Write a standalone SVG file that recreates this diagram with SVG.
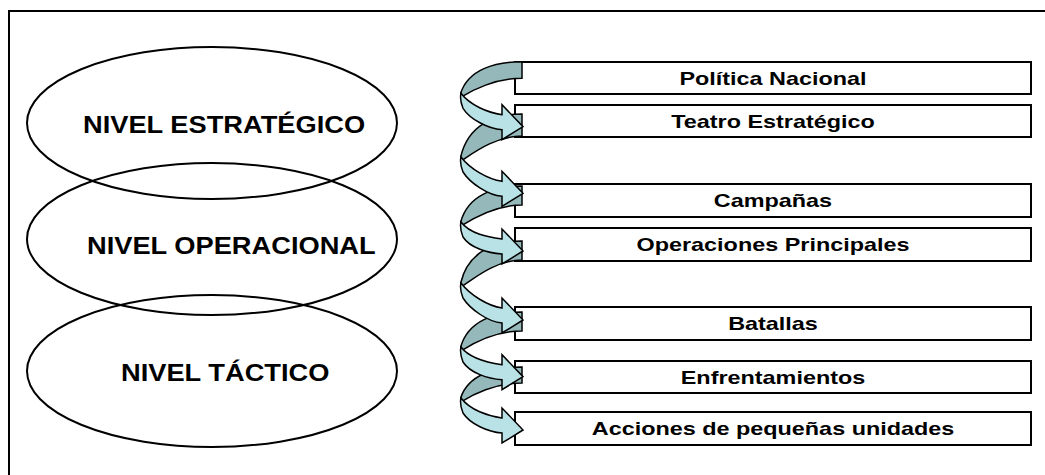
<svg xmlns="http://www.w3.org/2000/svg" width="1045" height="475" viewBox="0 0 1045 475">
<style>
.frame{fill:none;stroke:#000;stroke-width:2}
.ell{fill:none;stroke:#000;stroke-width:2}
.box{fill:#fff;stroke:#000;stroke-width:2}
.lvl{font-family:"Liberation Sans",Arial,sans-serif;font-weight:bold;font-size:23.5px;fill:#000;text-anchor:start}
.lbl{font-family:"Liberation Sans",Arial,sans-serif;font-weight:bold;font-size:18px;fill:#000;text-anchor:middle}
.dark{fill:#95B9BB;stroke:#000;stroke-width:1.5;stroke-linejoin:miter}
.light{fill:#B9E2E6;stroke:#000;stroke-width:1.5;stroke-linejoin:miter}
</style>
<rect class="frame" x="9" y="11" width="1100" height="500"/>
<g id="nivel-estrategico"><ellipse class="ell" cx="212" cy="123" rx="185" ry="76"/><text class="lvl" transform="translate(83,133) scale(1.16,1)">NIVEL ESTRATÉGICO</text></g>
<g id="nivel-operacional"><ellipse class="ell" cx="212" cy="239" rx="185" ry="76"/><text class="lvl" transform="translate(87,254) scale(1.16,1)">NIVEL OPERACIONAL</text></g>
<g id="nivel-tactico"><ellipse class="ell" cx="212" cy="371" rx="185" ry="76"/><text class="lvl" transform="translate(121,381) scale(1.16,1)">NIVEL TÁCTICO</text></g>
<g id="politica"><rect class="box" x="515" y="62" width="516" height="32"/><text class="lbl" transform="translate(773,84.5) scale(1.3,1)">Política Nacional</text></g>
<g id="teatro"><rect class="box" x="515" y="105" width="516" height="32"/><text class="lbl" transform="translate(773,127.5) scale(1.3,1)">Teatro Estratégico</text></g>
<g id="campanas"><rect class="box" x="515" y="184" width="516" height="33"/><text class="lbl" transform="translate(773,207) scale(1.3,1)">Campañas</text></g>
<g id="operaciones"><rect class="box" x="515" y="228" width="516" height="33"/><text class="lbl" transform="translate(773,251) scale(1.3,1)">Operaciones Principales</text></g>
<g id="batallas"><rect class="box" x="515" y="307" width="516" height="33"/><text class="lbl" transform="translate(773,330) scale(1.3,1)">Batallas</text></g>
<g id="enfrentamientos"><rect class="box" x="515" y="361" width="516" height="32"/><text class="lbl" transform="translate(773,383.5) scale(1.3,1)">Enfrentamientos</text></g>
<g id="acciones"><rect class="box" x="515" y="412" width="516" height="33"/><text class="lbl" transform="translate(773,435) scale(1.3,1)">Acciones de pequeñas unidades</text></g>
<g id="connectors">
<path class="dark" d="M522,61.7 C495,61.7 468,69.6 460.7,93.3 L462,96.7 C472,90.3 495,78.3 522,78.3 Z"/>
<path class="dark" d="M522,114 C495,114 468,124.8 460.7,157 L462,160.4 C472,154 495,136 522,136 Z"/>
<path class="dark" d="M522,186 C495,186 468,195 460.7,222 L462,225.4 C472,219 495,205 522,205 Z"/>
<path class="dark" d="M522,241 C495,241 468,251.5 460.7,283 L462,286.4 C472,280 495,260 522,260 Z"/>
<path class="dark" d="M522,312 C495,312 468,320.8 460.7,347 L462,350.4 C472,344 495,331 522,331 Z"/>
<path class="dark" d="M522,367 C495,367 468,374.8 460.7,398 L462,401.4 C472,395 495,383 522,383 Z"/>
<path class="light" d="M461,93.3 C470,105.3 488,112.7 502,114.7 L502,104.7 L523,126.7 L502,139.7 L502,129.7 C488,128.7 470,119.3 463,108.3 C461,103.3 460,97.3 461,93.3 Z"/>
<path class="light" d="M461,157 C470,169 488,179.3 502,181.3 L502,171.3 L523,193.3 L502,206.3 L502,196.3 C488,195.3 470,183 463,172 C461,167 460,161 461,157 Z"/>
<path class="light" d="M461,222 C470,234 488,237 502,239 L502,229 L523,251 L502,264 L502,254 C488,253 470,248 463,237 C461,232 460,226 461,222 Z"/>
<path class="light" d="M461,283 C470,295 488,306 502,308 L502,298 L523,320 L502,333 L502,323 C488,322 470,309 463,298 C461,293 460,287 461,283 Z"/>
<path class="light" d="M461,347 C470,359 488,362.7 502,364.7 L502,354.7 L523,376.7 L502,389.7 L502,379.7 C488,378.7 470,373 463,362 C461,357 460,351 461,347 Z"/>
<path class="light" d="M461,398 C470,410 488,416 502,418 L502,408 L523,430 L502,443 L502,433 C488,432 470,424 463,413 C461,408 460,402 461,398 Z"/>
</g>
</svg>
